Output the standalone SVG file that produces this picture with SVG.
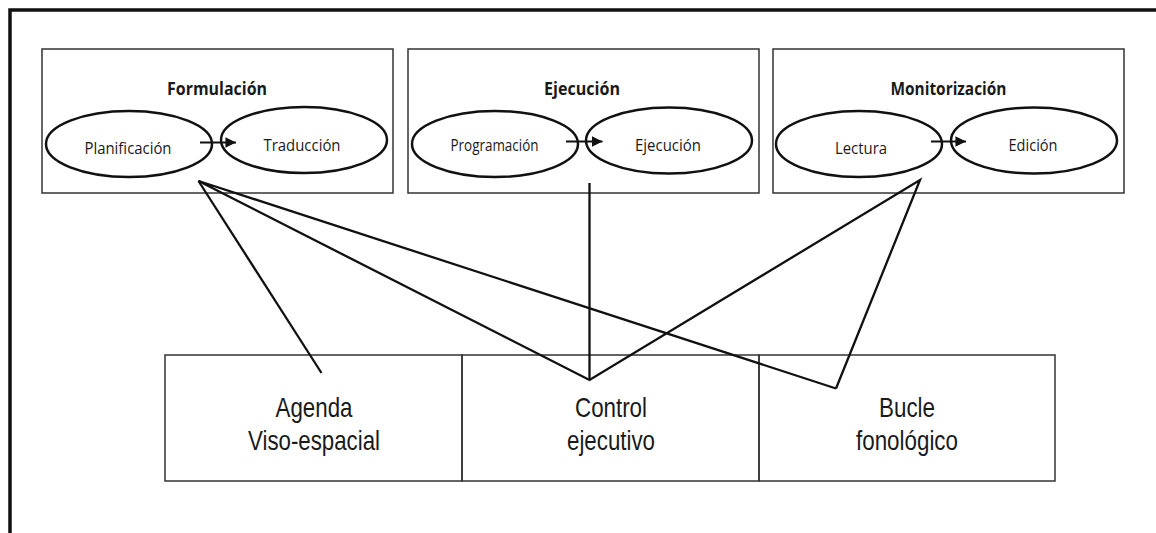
<svg xmlns="http://www.w3.org/2000/svg" width="1156" height="533" viewBox="0 0 1156 533">
  <style>
    .frame { fill: none; stroke: #111; stroke-width: 3.5; }
    .box { fill: none; stroke: #333; stroke-width: 1.5; }
    .oval { fill: #fff; stroke: #111; stroke-width: 2.5; }
    .title { font-family: "Open Sans", "Noto Sans", sans-serif; font-weight: bold; font-size: 18px; fill: #1a1a1a; text-anchor: middle; }
    .step { font-family: "Open Sans", "Noto Sans", sans-serif; font-size: 16.5px; fill: #1a1a1a; text-anchor: middle; }
    .mem { font-family: "Liberation Sans", Arial, sans-serif; font-size: 27.5px; fill: #1a1a1a; text-anchor: middle; }
    .flow { stroke: #111; stroke-width: 2.2; fill: none; }
    .link { stroke: #111; stroke-width: 2.3; fill: none; stroke-linejoin: miter; }
  </style>
  <defs>
    <marker id="head" viewBox="0 0 10 10" refX="10" refY="5" markerWidth="4.8" markerHeight="5" markerUnits="strokeWidth" orient="auto">
      <path d="M0,0 L10,5 L0,10 z" fill="#111"/>
    </marker>
  </defs>

  <rect width="1156" height="533" fill="#fff"/>

  <!-- outer frame: top and left edges only -->
  <path class="frame" d="M10,533 L10,10 L1156,10"/>

  <!-- writing processes -->
  <g id="formulacion">
    <rect class="box" x="42" y="49" width="351" height="144"/>
    <text class="title" x="217" y="95" textLength="100" lengthAdjust="spacingAndGlyphs">Formulación</text>
    <ellipse class="oval" cx="129" cy="144" rx="83" ry="33"/>
    <ellipse class="oval" cx="304" cy="140" rx="83" ry="33"/>
    <text class="step" x="128" y="154" textLength="87" lengthAdjust="spacingAndGlyphs">Planificación</text>
    <text class="step" x="302" y="151" textLength="77" lengthAdjust="spacingAndGlyphs">Traducción</text>
    <line class="flow" x1="200" y1="142.5" x2="236" y2="142.5" marker-end="url(#head)"/>
  </g>

  <g id="ejecucion">
    <rect class="box" x="408" y="49" width="351" height="144"/>
    <text class="title" x="582" y="95" textLength="76" lengthAdjust="spacingAndGlyphs">Ejecución</text>
    <ellipse class="oval" cx="495" cy="144" rx="83" ry="33"/>
    <ellipse class="oval" cx="669" cy="140.5" rx="83" ry="33"/>
    <text class="step" x="494.5" y="151" textLength="88" lengthAdjust="spacingAndGlyphs">Programación</text>
    <text class="step" x="668" y="151" textLength="66" lengthAdjust="spacingAndGlyphs">Ejecución</text>
    <line class="flow" x1="566" y1="141.5" x2="602.5" y2="141.5" marker-end="url(#head)"/>
  </g>

  <g id="monitorizacion">
    <rect class="box" x="773" y="49" width="351" height="144"/>
    <text class="title" x="948.5" y="95" textLength="116" lengthAdjust="spacingAndGlyphs">Monitorización</text>
    <ellipse class="oval" cx="859" cy="144" rx="83" ry="33"/>
    <ellipse class="oval" cx="1034" cy="140.5" rx="83" ry="33"/>
    <text class="step" x="861" y="154" textLength="52" lengthAdjust="spacingAndGlyphs">Lectura</text>
    <text class="step" x="1033" y="151" textLength="49" lengthAdjust="spacingAndGlyphs">Edición</text>
    <line class="flow" x1="931" y1="141.5" x2="966" y2="141.5" marker-end="url(#head)"/>
  </g>

  <!-- working memory components -->
  <g id="agenda">
    <rect class="box" x="165" y="355" width="297" height="126"/>
    <text class="mem" x="314" y="417" textLength="77" lengthAdjust="spacingAndGlyphs">Agenda</text>
    <text class="mem" x="314" y="450" textLength="132" lengthAdjust="spacingAndGlyphs">Viso-espacial</text>
  </g>
  <g id="control">
    <rect class="box" x="462" y="355" width="297" height="126"/>
    <text class="mem" x="611" y="417" textLength="72" lengthAdjust="spacingAndGlyphs">Control</text>
    <text class="mem" x="611" y="450" textLength="88" lengthAdjust="spacingAndGlyphs">ejecutivo</text>
  </g>
  <g id="bucle">
    <rect class="box" x="759" y="355" width="296" height="126"/>
    <text class="mem" x="907" y="417" textLength="56" lengthAdjust="spacingAndGlyphs">Bucle</text>
    <text class="mem" x="907" y="450" textLength="102" lengthAdjust="spacingAndGlyphs">fonológico</text>
  </g>

  <!-- connectors between processes and memory components -->
  <g id="connectors">
    <line class="link" x1="198.5" y1="181" x2="321.5" y2="373"/>
    <polyline class="link" points="836,388.5 198.5,181 589.5,380 920,180 836,388.5"/>
    <line class="link" x1="589.5" y1="183" x2="589.5" y2="380"/>
  </g>
</svg>
